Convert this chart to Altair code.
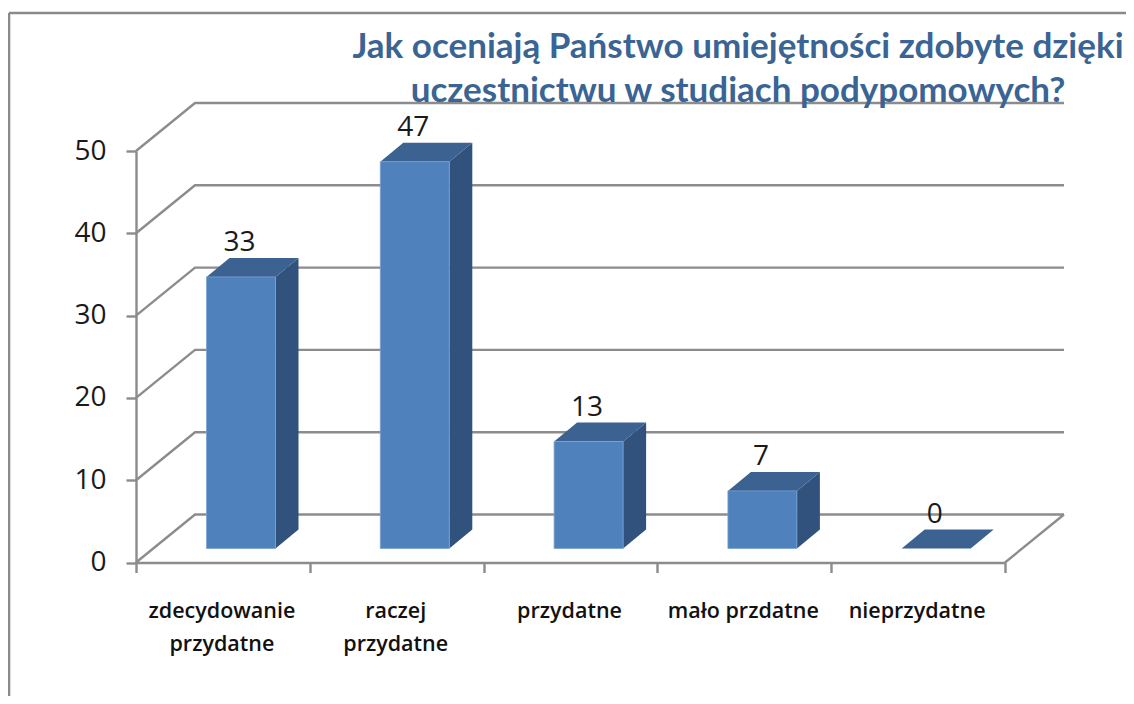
import altair as alt
import pandas as pd

CATEGORIES = ["zdecydowanie\nprzydatne", "raczej\nprzydatne", "przydatne", "mało przdatne", "nieprzydatne"]
VALUES = [33, 47, 13, 7, 0]
Y_TICKS = [0, 10, 20, 30, 40, 50]
X_TICKS = [0, 1, 2, 3, 4, 5]
TITLE = ["Jak oceniają Państwo umiejętności zdobyte dzięki", "uczestnictwu w studiach podypomowych?"]

W, H = 869, 411.5
UX = W / 5
UY = H / 50
BACK_X = 59 / UX
BACK_Y = 48 / UY
BAR_X = 70.5 / UX
BAR_W = 69 / UX
BAR_BASE = 14 / UY
DEPTH_X = 23 / UX
DEPTH_Y = 19 / UY

GRID = "#8c8c8c"
xs = alt.Scale(domain=[0, 5], nice=False, zero=False)
ys = alt.Scale(domain=[0, 50], nice=False, zero=False)

grid_rows = []
for v in Y_TICKS:
    grid_rows += [
        {"g": v, "o": 0, "x": 0, "y": v},
        {"g": v, "o": 1, "x": BACK_X, "y": v + BACK_Y},
        {"g": v, "o": 2, "x": 5 + BACK_X, "y": v + BACK_Y},
    ]
grid_rows += [{"g": -1, "o": 0, "x": 5, "y": 0}, {"g": -1, "o": 1, "x": 5 + BACK_X, "y": BACK_Y}]
grid = alt.Chart(pd.DataFrame(grid_rows)).mark_line(color=GRID, strokeWidth=2.4).encode(
    x=alt.X("x:Q", scale=xs, axis=alt.Axis(
        title=None, values=X_TICKS, labels=False, grid=False, tickSize=10, tickWidth=2.4,
        tickColor=GRID, domainColor=GRID, domainWidth=2.4)),
    y=alt.Y("y:Q", scale=ys, axis=alt.Axis(
        title=None, values=Y_TICKS, grid=False, tickSize=10, tickWidth=2.4, tickColor=GRID,
        domainColor=GRID, domainWidth=2.4, labelFont="Open Sans", labelFontSize=28,
        labelColor="#1a1a1a", labelPadding=20, labelFlush=False, labelOverlap=False)),
    detail="g:N", order="o:Q",
)

bars = pd.DataFrame({
    "i": range(5), "v": VALUES,
    "x0": [i + BAR_X for i in range(5)],
    "x1": [i + BAR_X + BAR_W for i in range(5)],
    "y0": BAR_BASE,
    "y1": [v + BAR_BASE for v in VALUES],
})
front = alt.Chart(bars[bars.v > 0]).mark_bar(color="#4f81bd", stroke="#7ba2d2", strokeWidth=0.8).encode(
    x=alt.X("x0:Q", scale=xs), x2="x1:Q", y=alt.Y("y0:Q", scale=ys), y2="y1:Q")

side_rows, top_rows = [], []
for r in bars.itertuples():
    if r.v > 0:
        side_rows += [
            {"i": r.i, "x": r.x1, "lo": r.y0, "hi": r.y1},
            {"i": r.i, "x": r.x1 + DEPTH_X, "lo": r.y0 + DEPTH_Y, "hi": r.y1 + DEPTH_Y},
        ]
    top_rows += [
        {"i": r.i, "y": r.y1, "l": r.x0, "r": r.x1},
        {"i": r.i, "y": r.y1 + DEPTH_Y, "l": r.x0 + DEPTH_X, "r": r.x1 + DEPTH_X},
    ]
side = alt.Chart(pd.DataFrame(side_rows)).mark_area(orient="vertical", color="#31527c").encode(
    x=alt.X("x:Q", scale=xs), y=alt.Y("lo:Q", scale=ys), y2="hi:Q", detail="i:N")
top = alt.Chart(pd.DataFrame(top_rows)).mark_area(orient="horizontal", color="#3c6291").encode(
    y=alt.Y("y:Q", scale=ys), x=alt.X("l:Q", scale=xs), x2="r:Q", detail="i:N")

labels = pd.DataFrame({"x": [i + BAR_X + BAR_W / 2 - 1.5 / UX for i in range(5)],
                       "y": [v + BAR_BASE for v in VALUES], "t": [str(v) for v in VALUES]})
value_text = alt.Chart(labels).mark_text(
    font="Open Sans", fontSize=28, color="#1a1a1a", baseline="alphabetic", dy=-26).encode(
    x=alt.X("x:Q", scale=xs), y=alt.Y("y:Q", scale=ys), text="t:N")

cats = pd.DataFrame({"x": [i + 0.5 - 1 / UX for i in range(5)], "t": CATEGORIES})
cat_text = alt.Chart(cats).mark_text(
    font="Open Sans", fontSize=21.5, fontWeight=600, color="#111111", baseline="alphabetic",
    lineBreak="\n", lineHeight=33).encode(
    x=alt.X("x:Q", scale=xs), y=alt.value(H + 55), text="t:N")

title_df = pd.DataFrame({"t": TITLE, "row": [0, 1]})
title_1 = alt.Chart(title_df[title_df.row == 0]).mark_text(
    font="Lato", fontSize=35, fontWeight="bold", color="#3a6494", baseline="alphabetic").encode(
    x=alt.value(602), y=alt.value(-93), text="t:N")
title_2 = alt.Chart(title_df[title_df.row == 1]).mark_text(
    font="Lato", fontSize=35, fontWeight="bold", color="#3a6494", baseline="alphabetic").encode(
    x=alt.value(602), y=alt.value(-49), text="t:N")

frame_left = alt.Chart(pd.DataFrame({"a": [0]})).mark_rule(color="#8a8a8a", strokeWidth=2.6).encode(
    x=alt.value(-127), y=alt.value(-138), y2=alt.value(H + 200))
frame_top = alt.Chart(pd.DataFrame({"a": [0]})).mark_rule(color="#8a8a8a", strokeWidth=2.6).encode(
    y=alt.value(-138), x=alt.value(-127), x2=alt.value(W + 200))

chart = alt.layer(frame_left, frame_top, grid, side, top, front, value_text, cat_text, title_1, title_2).properties(
    width=W, height=H,
    padding={"left": 128, "top": 143, "right": 121, "bottom": 133},
    autosize=alt.AutoSizeParams(type="none"),
    background="white",
).configure_view(stroke=None)

chart.save("out.html", embed_options={"renderer": "svg", "actions": False})
